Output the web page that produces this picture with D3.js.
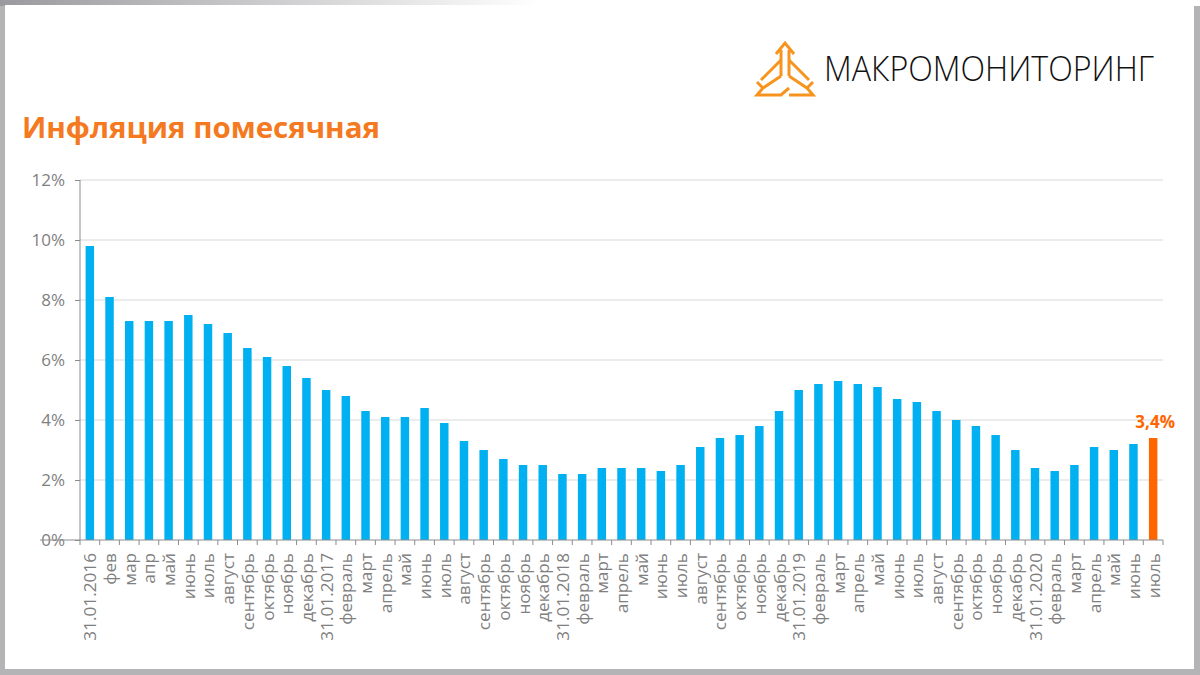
<!DOCTYPE html>
<html>
<head>
<meta charset="utf-8">
<script src="https://cdn.jsdelivr.net/npm/d3@7"></script>
<style>
  body { margin: 0; background: #fff; }
  text { font-family: "Open Sans", "DejaVu Sans", sans-serif; }
</style>
</head>
<body>
<svg id="chart" width="1200" height="675"></svg>
<script>
// data
const months = ["31.01.2016","фев","мар","апр","май","июнь","июль","август","сентябрь","октябрь","ноябрь","декабрь",
  "31.01.2017","февраль","март","апрель","май","июнь","июль","август","сентябрь","октябрь","ноябрь","декабрь",
  "31.01.2018","февраль","март","апрель","май","июнь","июль","август","сентябрь","октябрь","ноябрь","декабрь",
  "31.01.2019","февраль","март","апрель","май","июнь","июль","август","сентябрь","октябрь","ноябрь","декабрь",
  "31.01.2020","февраль","март","апрель","май","июнь","июль"];
const inflation = [9.8,8.1,7.3,7.3,7.3,7.5,7.2,6.9,6.4,6.1,5.8,5.4,
  5.0,4.8,4.3,4.1,4.1,4.4,3.9,3.3,3.0,2.7,2.5,2.5,
  2.2,2.2,2.4,2.4,2.4,2.3,2.5,3.1,3.4,3.5,3.8,4.3,
  5.0,5.2,5.3,5.2,5.1,4.7,4.6,4.3,4.0,3.8,3.5,3.0,
  2.4,2.3,2.5,3.1,3.0,3.2,3.4];
const yTicks = [0,2,4,6,8,10,12];
const titleText = "Инфляция помесячная";
const logoText = "МАКРОМОНИТОРИНГ";

const svg = d3.select("#chart");
const orange = "#F47920";

// frame
const defs = svg.append("defs");
const gTop = defs.append("linearGradient").attr("id","gtop");
gTop.append("stop").attr("offset","0%").attr("stop-color","#9a9a9e");
gTop.append("stop").attr("offset","45%").attr("stop-color","#ffffff");
svg.append("rect").attr("width",1200).attr("height",675).attr("fill","#b4b4b6");
svg.append("rect").attr("width",1200).attr("height",6).attr("fill","url(#gtop)");
svg.append("rect").attr("x",5).attr("y",5).attr("width",1189).attr("height",664).attr("fill","#fff");

// logo icon
const icon = svg.append("g").attr("transform","translate(785,70)")
  .attr("fill","none").attr("stroke","#F7941D").attr("stroke-width",3).attr("stroke-linejoin","miter");
icon.append("path").attr("d","M-4,6 L-4,-20 M4,6 L4,-20 M-9,-16 L0,-27 L9,-16");
icon.append("path").attr("d","M-4,6 L-22,18 L-28,12 M-22,18 L-28,25 L-4,25 L4,18");
icon.append("path").attr("d","M4,6 L22,18 L28,12 M22,18 L28,25 L4,25");
icon.append("path").attr("d","M-4,-10 L-24,10 M4,-10 L24,10");

svg.append("text").attr("x",824).attr("y",81)
  .attr("font-size",35).attr("font-weight",300).attr("fill","#111")
  .attr("textLength",330).attr("lengthAdjust","spacingAndGlyphs")
  .text(logoText);

// title
svg.append("text").attr("x",22).attr("y",138)
  .attr("font-family","'DejaVu Sans', sans-serif")
  .attr("font-size",28).attr("font-weight",700).attr("fill",orange)
  .attr("textLength",358).attr("lengthAdjust","spacingAndGlyphs")
  .text(titleText);

// scales
const plotL = 80, plotR = 1163, plotT = 180, plotB = 540;
const x = d3.scaleBand().domain(d3.range(months.length)).range([plotL, plotR]).paddingInner(0.57).paddingOuter(0.285);
const y = d3.scaleLinear().domain([0,12]).range([plotB, plotT]);

// grid
svg.append("g").selectAll("line").data(yTicks.slice(1)).enter().append("line")
  .attr("x1",plotL).attr("x2",plotR)
  .attr("y1",d => y(d)).attr("y2",d => y(d))
  .attr("stroke","#d9d9d9").attr("stroke-width",1);

// y axis
const yAxis = svg.append("g").attr("transform","translate(" + plotL + ",0)")
  .call(d3.axisLeft(y).tickValues(yTicks).tickSize(5).tickPadding(10).tickFormat(d => d + "%"));
yAxis.selectAll("line,path").attr("stroke","#8c8c8c");
yAxis.select(".domain").attr("d","M0," + plotT + "V" + plotB);
yAxis.selectAll("text").attr("font-size",17).attr("fill","#7f7f7f")
  .attr("font-family","'Open Sans', sans-serif");

// bars
svg.append("g").selectAll("rect").data(inflation).enter().append("rect")
  .attr("x",(d,i) => x(i))
  .attr("y",d => y(d))
  .attr("width",x.bandwidth())
  .attr("height",d => plotB - y(d))
  .attr("fill",(d,i) => i === inflation.length - 1 ? "#FF6600" : "#00B0F0");

// x axis
const xa = svg.append("g").attr("transform","translate(0," + plotB + ")");
xa.append("line").attr("x1",plotL - 40).attr("x2",plotR).attr("stroke","#8c8c8c");
const step = (plotR - plotL) / months.length;
xa.selectAll(".tk").data(d3.range(months.length + 1)).enter().append("line")
  .attr("x1",i => plotL + i * step).attr("x2",i => plotL + i * step)
  .attr("y1",0).attr("y2",5).attr("stroke","#8c8c8c");
xa.selectAll(".lb").data(months).enter().append("text")
  .attr("transform",(d,i) => "translate(" + (x(i) + x.bandwidth() / 2 + 6.5) + ",13) rotate(-90)")
  .attr("text-anchor","end")
  .attr("font-size",17.2).attr("fill","#7f7f7f")
  .text(d => d);

// last value label
const last = inflation.length - 1;
svg.append("text")
  .attr("x",x(last) + x.bandwidth() / 2 + 2)
  .attr("y",y(inflation[last]) - 10)
  .attr("text-anchor","middle")
  .attr("font-size",17).attr("font-weight",700).attr("fill","#FF6600")
  .text(String(inflation[last]).replace(".", ",") + "%");
</script>
</body>
</html>
